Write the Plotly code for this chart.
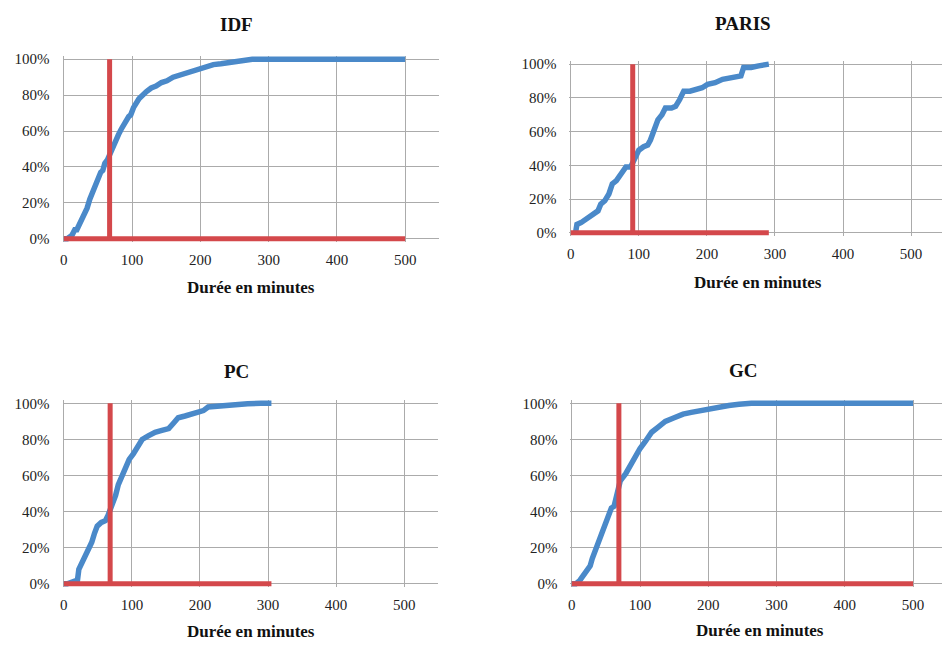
import plotly.graph_objects as go

W, H = 942, 646

# ---- data ----
panels = ["IDF", "PARIS", "PC", "GC"]

idf_x = [0, 5, 12, 16, 19, 24, 27, 29, 34, 38, 43, 45, 48, 54, 57, 60, 64, 67, 70, 73, 80, 84, 88, 95, 98, 102, 110, 115, 121, 128, 135, 143, 151, 160, 168, 176, 184, 193, 202, 210, 219, 230, 240, 250, 260, 268, 276, 300, 350, 400, 450, 500]
idf_y = [0, 0, 2, 5, 5, 9, 13, 13, 17, 22, 27, 28, 33, 37, 38, 42, 44, 47, 50, 53, 58, 61, 64, 68, 69, 73, 78, 80, 82, 84, 85, 87, 88, 90, 91, 92, 93, 94, 95, 96, 97, 97.5, 98, 98.5, 99, 99.5, 100, 100, 100, 100, 100, 100]

paris_x = [7, 9, 15, 22, 30, 40, 44, 50, 56, 59, 61, 67, 73, 77, 81, 88, 91, 95, 100, 107, 113, 117, 120, 124, 128, 134, 139, 148, 154, 160, 166, 175, 185, 193, 201, 212, 223, 235, 246, 250, 254, 265, 276, 286, 291]
paris_y = [0, 5, 6, 8, 10, 13, 17, 19, 23, 26, 29, 31, 34, 37, 39, 39, 42, 46, 49, 51, 52, 55, 58, 63, 67, 70, 74, 74, 75, 79, 84, 84, 85, 86, 88, 89, 91, 92, 93, 93, 98, 98, 99, 100, 100]

pc_x = [0, 5, 12, 20, 22, 27, 32, 37, 41, 45, 49, 55, 61, 65, 68, 72, 76, 80, 85, 90, 96, 102, 108, 115, 124, 134, 144, 154, 161, 168, 178, 188, 198, 205, 212, 225, 238, 251, 270, 290, 305]
pc_y = [0, 0, 1, 2, 8, 12, 15, 19, 23, 28, 32, 34, 35, 38, 41, 44, 49, 55, 60, 65, 69, 72, 76, 80, 82, 84, 85, 86, 89, 92, 93, 94, 95, 96, 98, 98.5, 99, 99.5, 99.8, 100, 100]

gc_x = [0, 6, 12, 18, 24, 27, 30, 36, 42, 44, 47, 52, 58, 62, 64, 68, 71, 79, 86, 93, 100, 108, 117, 127, 137, 150, 163, 175, 187, 200, 215, 230, 245, 263, 300, 350, 400, 450, 500]
gc_y = [0, 0, 2, 5, 9, 10, 14, 20, 26, 27, 32, 37, 42, 43, 47, 53, 57, 61, 66, 70, 75, 79, 84, 87, 90, 92, 94, 95, 96, 96.5, 98, 98.8, 99.5, 100, 100, 100, 100, 100, 100]

series_x = [idf_x, paris_x, pc_x, gc_x]
series_y = [idf_y, paris_y, pc_y, gc_y]

# reference value (vertical red line) and extent of red baseline
ref_value = [67, 91, 68, 69]
ref_extent = [500, 291, 305, 500]

x_ticks = [0, 100, 200, 300, 400, 500]
y_ticks = [0, 20, 40, 60, 80, 100]
y_ticktext = ["0%", "20%", "40%", "60%", "80%", "100%"]
x_title = "Durée en minutes"

# ---- layout geometry in pixels: (x of 0, x of 500, right edge, y of 0%, y of 100%) ----
geom = [
    (62, 404, 438, 238, 56),
    (570, 911, 942, 232, 61),
    (62, 403, 437, 588, 405),
    (571, 913, 942, 588, 405),
]
title_pos = [(235, 21), (743, 20), (235, 373), (743, 372)]
xtitle_pos = [(250, 288), (758, 282), (250, 636), (760, 635)]

BLUE = "#4a89c9"
RED = "#d4484b"
GRID = "#ababab"
FONT = "Liberation Serif"

fig = go.Figure()
annotations = []
for i, name in enumerate(panels):
    x0, x500, xr, y0, y100 = geom[i]
    ppx = (x500 - x0) / 500.0
    ppy = (y0 - y100) / 100.0
    xmin = -2
    xmax = (xr - x0) / ppx
    ymin, ymax = -2, 102
    dom_x = [(x0 + xmin * ppx) / W, xr / W]
    dom_y = [1 - (y0 - ymin * ppy) / H, 1 - (y0 - ymax * ppy) / H]
    sfx = "" if i == 0 else str(i + 1)
    xa, ya = "x" + sfx, "y" + sfx
    fig.add_trace(go.Scatter(x=series_x[i], y=series_y[i], mode="lines",
                             line=dict(color=BLUE, width=5.5), xaxis=xa, yaxis=ya,
                             showlegend=False, name=name))
    fig.add_trace(go.Scatter(x=[0, ref_extent[i]], y=[0, 0], mode="lines",
                             line=dict(color=RED, width=5), xaxis=xa, yaxis=ya,
                             showlegend=False, hoverinfo="skip"))
    fig.add_trace(go.Scatter(x=[ref_value[i], ref_value[i]], y=[0, 100], mode="lines",
                             line=dict(color=RED, width=5), xaxis=xa, yaxis=ya,
                             showlegend=False, hoverinfo="skip"))
    fig.layout["xaxis" + sfx] = dict(
        domain=dom_x, range=[xmin, xmax], tickvals=x_ticks, showgrid=True,
        gridcolor=GRID, gridwidth=1, zeroline=False, showline=False,
        ticks="", tickfont=dict(family=FONT, size=15, color="#222"),
        ticklabelstandoff=7, anchor=ya, fixedrange=True)
    fig.layout["yaxis" + sfx] = dict(
        domain=dom_y, range=[ymin, ymax], tickvals=y_ticks, ticktext=y_ticktext,
        showgrid=True, gridcolor=GRID, gridwidth=1, zeroline=False, showline=False,
        ticks="", tickfont=dict(family=FONT, size=15, color="#222"),
        ticklabelstandoff=12, anchor=xa, fixedrange=True)
    tx, ty = title_pos[i]
    annotations.append(dict(text="<b>%s</b>" % name, x=tx / W, y=1 - ty / H,
                            xref="paper", yref="paper", showarrow=False,
                            xanchor="center", yanchor="middle",
                            font=dict(family=FONT, size=19, color="#111")))
    ax, ay = xtitle_pos[i]
    annotations.append(dict(text="<b>%s</b>" % x_title, x=ax / W, y=1 - ay / H,
                            xref="paper", yref="paper", showarrow=False,
                            xanchor="center", yanchor="middle",
                            font=dict(family=FONT, size=17, color="#111")))

fig.update_layout(width=W, height=H, margin=dict(l=0, r=0, t=0, b=0),
                  paper_bgcolor="white", plot_bgcolor="white",
                  annotations=annotations)
fig.write_html("out.html", config={"displayModeBar": False},
               post_script="document.body.style.margin='0px';document.body.style.overflow='hidden';")
